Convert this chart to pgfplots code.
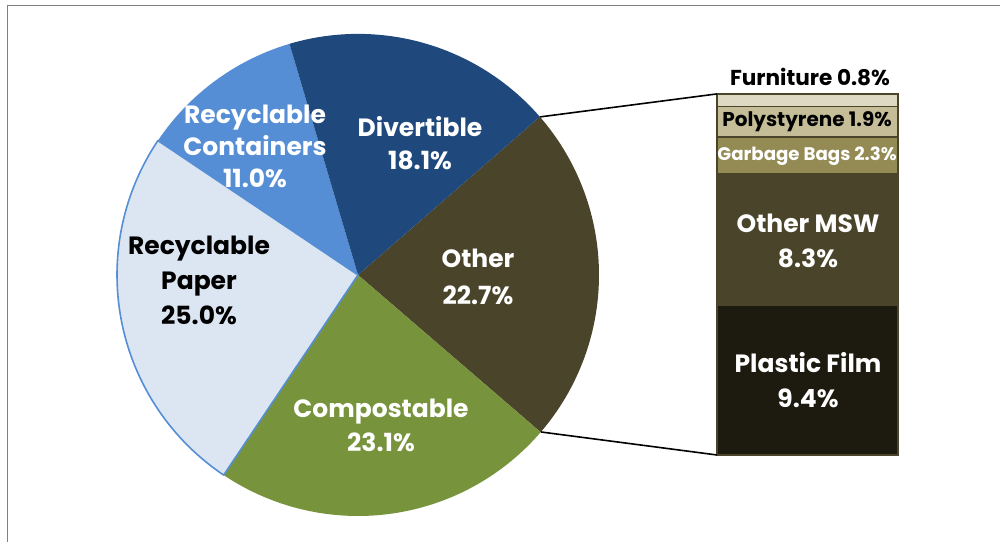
\documentclass[border=0pt]{standalone}
\usepackage{pgfplots}
\pgfplotsset{compat=1.18}
\usepackage{fontspec}
\setmainfont{Poppins}
\definecolor{cDiv}{HTML}{1F497D}
\definecolor{cCont}{HTML}{558ED5}
\definecolor{cPaper}{HTML}{DCE6F2}
\definecolor{cPaperB}{HTML}{558ED5}
\definecolor{cComp}{HTML}{77933C}
\definecolor{cOther}{HTML}{4A452A}
\definecolor{cFilm}{HTML}{1D1B10}
\definecolor{cMSW}{HTML}{4A452A}
\definecolor{cBags}{HTML}{948A54}
\definecolor{cPoly}{HTML}{C4BD97}
\definecolor{cFurn}{HTML}{DDD9C3}
\definecolor{cFrame}{HTML}{808080}
\begin{document}
\begin{tikzpicture}
\useasboundingbox (0,0) rectangle (500pt,270.5pt);
\draw[cFrame, line width=0.6pt] (3.6pt,-20pt) -- (3.6pt,267.6pt) -- (520pt,267.6pt);
\begin{axis}[
  at={(358.5pt,43pt)}, anchor=south west,
  scale only axis, width=90.5pt, height=180.5pt,
  xmin=-0.5, xmax=0.5, ymin=0, ymax=22.7,
  hide axis, clip=false,
  ybar stacked, bar width=90.5pt,
]
\addplot[fill=cFilm, draw=cOther, line width=0.6pt] coordinates {(0,9.4)};
\addplot[fill=cMSW, draw=cOther, line width=0.6pt] coordinates {(0,8.3)};
\addplot[fill=cBags, draw=cOther, line width=0.6pt] coordinates {(0,2.3)};
\addplot[fill=cPoly, draw=cOther, line width=0.6pt] coordinates {(0,1.9)};
\addplot[fill=cFurn, draw=cOther, line width=0.6pt] coordinates {(0,0.8)};
\end{axis}
\begin{axis}[
  at={(0,0)}, anchor=south west,
  scale only axis, width=500pt, height=270.5pt,
  xmin=0, xmax=1000, ymin=0, ymax=541,
  hide axis, clip=false,
]
% pie: centre (358,266), radius 241, first slice starts at 41 deg, clockwise
% Other 22.7
\addplot[fill=cOther, draw=none, domain=-40.72:41, samples=80, variable=\t]
  ({358+241*cos(\t)},{266+241*sin(\t)}) -- (axis cs:358,266) -- cycle;
% Compostable 23.1
\addplot[fill=cComp, draw=none, domain=-123.88:-40.72, samples=80, variable=\t]
  ({358+241*cos(\t)},{266+241*sin(\t)}) -- (axis cs:358,266) -- cycle;
% Recyclable Containers 11.0
\addplot[fill=cCont, draw=none, domain=-253.48:-213.88, samples=60, variable=\t]
  ({358+241*cos(\t)},{266+241*sin(\t)}) -- (axis cs:358,266) -- cycle;
% Divertible 18.1
\addplot[fill=cDiv, draw=none, domain=-319:-253.48, samples=70, variable=\t]
  ({358+241*cos(\t)},{266+241*sin(\t)}) -- (axis cs:358,266) -- cycle;
% Recyclable Paper 25.0
\addplot[fill=cPaper, draw=cPaperB, line width=0.8pt, line join=round, domain=-213.88:-123.88, samples=80, variable=\t]
  ({358+241*cos(\t)},{266+241*sin(\t)}) -- (axis cs:358,266) -- cycle;
% connector lines
\addplot[black, line width=0.8pt] coordinates {(540,424) (717,447)};
\addplot[black, line width=0.8pt] coordinates {(541,109) (717,86)};
% pie labels
\node[white, font=\fontsize{12.5}{16.5}\selectfont\bfseries, align=center] at (axis cs:420,397.5) {Divertible\\18.1\%};
\node[white, font=\fontsize{12.5}{16}\selectfont\bfseries, align=center] at (axis cs:255,395) {Recyclable\\Containers\\11.0\%};
\node[white, font=\fontsize{12.5}{18.5}\selectfont\bfseries, align=center] at (axis cs:478,264.5) {Other\\22.7\%};
\node[black, font=\fontsize{12.5}{17.5}\selectfont\bfseries, align=center] at (axis cs:199,261) {Recyclable\\Paper\\25.0\%};
\node[white, font=\fontsize{12.5}{17}\selectfont\bfseries, align=center] at (axis cs:381,116) {Compostable\\23.1\%};
% bar labels
\node[black, font=\fontsize{10.8}{12}\selectfont\bfseries] at (axis cs:810,464) {Furniture 0.8\%};
\node[black, font=\fontsize{10}{12}\selectfont\bfseries] at (axis cs:807,419) {Polystyrene 1.9\%};
\node[white, font=\fontsize{9.1}{12}\selectfont\bfseries] at (axis cs:807,385) {Garbage Bags 2.3\%};
\node[white, font=\fontsize{12.5}{17.5}\selectfont\bfseries, align=center] at (axis cs:808,300) {Other MSW\\8.3\%};
\node[white, font=\fontsize{12.5}{17.5}\selectfont\bfseries, align=center] at (axis cs:808,160.5) {Plastic Film\\9.4\%};
\end{axis}
\end{tikzpicture}
\end{document}
